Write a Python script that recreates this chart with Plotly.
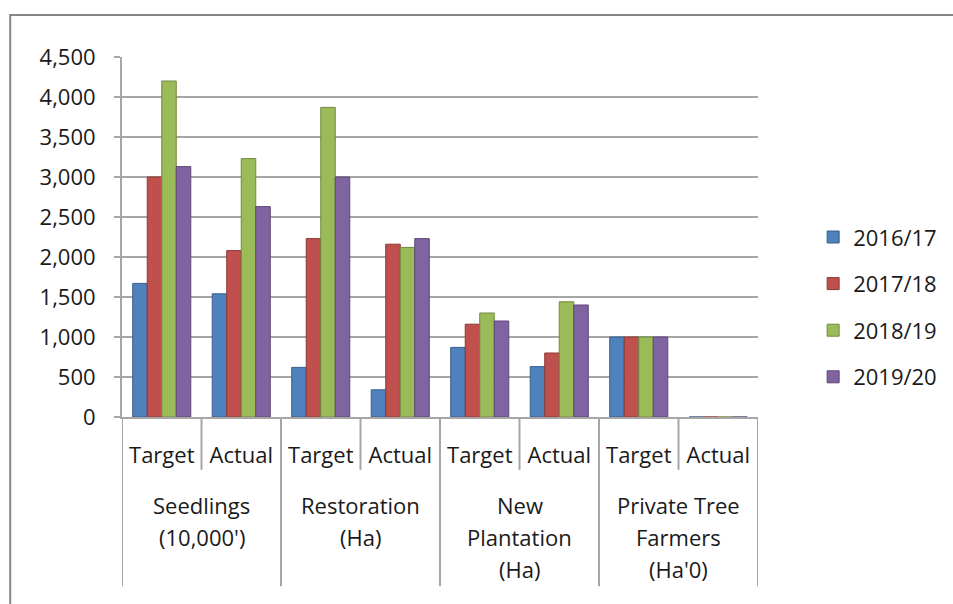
import plotly.graph_objects as go

# Programme indicators, each with a target and an actual figure
group_lines = [
    ["Seedlings", "(10,000')"],
    ["Restoration", "(Ha)"],
    ["New", "Plantation", "(Ha)"],
    ["Private Tree", "Farmers", "(Ha'0)"],
]
kinds = ["Target", "Actual"]

years = ["2016/17", "2017/18", "2018/19", "2019/20"]
colors = ["#4F81BD", "#C0504D", "#9BBB59", "#8064A2"]
edge_colors = ["#385D8A", "#8C3836", "#71893F", "#5C4776"]

# Values in the order: Seedlings T/A, Restoration T/A, New Plantation T/A, Private Tree Farmers T/A
v_2016_17 = [1670, 1540, 620, 340, 870, 630, 1000, 0]
v_2017_18 = [3000, 2080, 2230, 2160, 1160, 800, 1000, 0]
v_2018_19 = [4200, 3230, 3870, 2120, 1300, 1440, 1000, 0]
v_2019_20 = [3130, 2630, 3000, 2230, 1200, 1400, 1000, 0]
series = [v_2016_17, v_2017_18, v_2018_19, v_2019_20]

y_ticks = [0, 500, 1000, 1500, 2000, 2500, 3000, 3500, 4000, 4500]

n_cat = len(group_lines) * len(kinds)
x_pos = list(range(n_cat))
x_text = [k for _ in group_lines for k in kinds]

FONT = "'Open Sans', sans-serif"
TXT = "#1A1A1A"
GRID = "#A6A6A6"

fig = go.Figure()
for i, (name, vals, col, edge) in enumerate(zip(years, series, colors, edge_colors)):
    fig.add_trace(go.Bar(
        x=x_pos, y=vals, name=name, legendgroup=f"g{i}",
        marker=dict(color=col, line=dict(color=edge, width=1)),
    ))

# divider lines under the category axis
shapes = []
for j in range(len(group_lines)):
    inner = 2 * j + 0.5
    shapes.append(dict(type="line", xref="x", yref="paper", x0=inner, x1=inner,
                       y0=0, y1=-0.147, line=dict(color=GRID, width=2)))
for j in range(len(group_lines) + 1):
    edge_x = 2 * j - 0.5
    shapes.append(dict(type="line", xref="x", yref="paper", x0=edge_x, x1=edge_x,
                       y0=0, y1=-0.47, line=dict(color=GRID, width=2)))
# chart frame
shapes.append(dict(type="rect", xref="paper", yref="paper",
                   x0=-0.1758, x1=1.32, y0=-0.54, y1=1.1167,
                   line=dict(color="#868686", width=2), fillcolor="rgba(0,0,0,0)",
                   layer="below"))

# group captions, one line per annotation
line_y = [-0.2444, -0.3333, -0.4222]
annotations = []
for j, lines in enumerate(group_lines):
    for k, txt in enumerate(lines):
        annotations.append(dict(
            x=2 * j + 0.5, y=line_y[k], xref="x", yref="paper",
            text=txt, showarrow=False, xanchor="center", yanchor="middle",
            font=dict(family=FONT, size=22, color=TXT),
        ))

fig.update_layout(
    width=953, height=604,
    margin=dict(l=122, r=194, t=57, b=187),
    paper_bgcolor="white", plot_bgcolor="white",
    barmode="group", bargap=0.27, bargroupgap=0,
    font=dict(family=FONT, size=22, color=TXT),
    showlegend=True,
    legend=dict(
        x=1.085, y=0.305, xanchor="left", yanchor="middle",
        font=dict(family=FONT, size=22, color=TXT),
        tracegroupgap=15, bgcolor="rgba(0,0,0,0)",
    ),
    xaxis=dict(
        range=[-0.5, n_cat - 0.5],
        tickmode="array", tickvals=x_pos, ticktext=x_text,
        showgrid=False, showline=True, linecolor=GRID, linewidth=2,
        ticks="", ticklabelstandoff=18,
        tickfont=dict(family=FONT, size=22, color=TXT),
        zeroline=False, fixedrange=True,
    ),
    yaxis=dict(
        range=[0, 4500], tickvals=y_ticks, tickformat=",d",
        showgrid=True, gridcolor=GRID, gridwidth=2,
        showline=True, linecolor=GRID, linewidth=2,
        ticks="outside", ticklen=6, tickcolor=GRID, tickwidth=2,
        ticklabelstandoff=14,
        tickfont=dict(family=FONT, size=22, color=TXT),
        zeroline=False, fixedrange=True,
    ),
    shapes=shapes,
    annotations=annotations,
)

fig.write_html("out.html")
